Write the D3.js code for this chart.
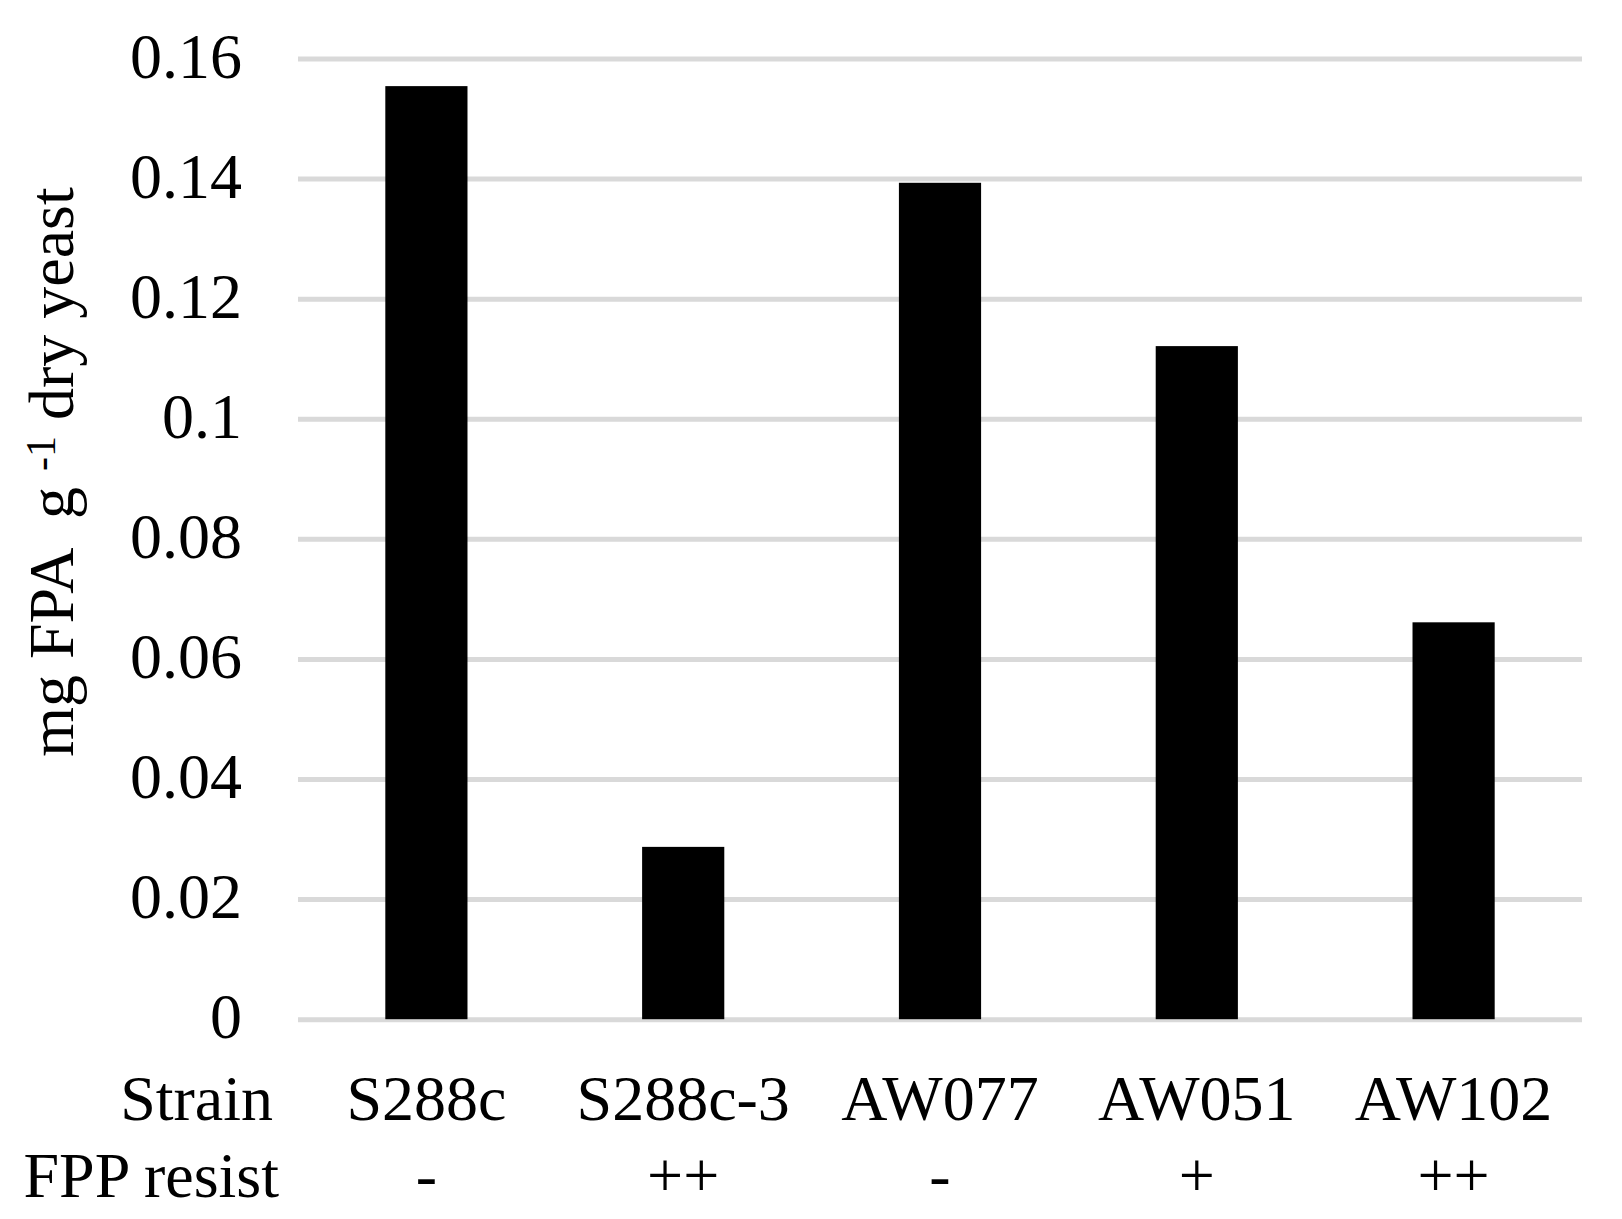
<!DOCTYPE html>
<html>
<head>
<meta charset="utf-8">
<script src="https://cdn.jsdelivr.net/npm/d3@7"></script>
<style>
  body { margin: 0; background: #fff; }
  svg { display: block; }
  .tick text { font-family: "Liberation Serif", "Times New Roman", serif; fill: #000; }
</style>
</head>
<body>
<div class="bar-chart"></div>
<script>
// data
var strains = ["S288c", "S288c-3", "AW077", "AW051", "AW102"];
var resist = ["-", "++", "-", "+", "++"];
var fpa = [0.1554, 0.0287, 0.1393, 0.1121, 0.0661];
var yTicks = [0, 0.02, 0.04, 0.06, 0.08, 0.1, 0.12, 0.14, 0.16];

var margin = {top: 58.5, right: 40, bottom: 200, left: 298},
  width = 1622 - margin.left - margin.right,
  height = 1019.2 - margin.top;

var font = '"Liberation Serif", "Times New Roman", serif';

var svg = d3.select(".bar-chart")
    .append("svg")
    .attr("width", 1622)
    .attr("height", 1219)
  .append("g")
    .attr("transform", "translate(" + margin.left + "," + margin.top + ")");

var x = d3.scaleBand()
    .domain(d3.range(strains.length))
    .range([0, width])
    .paddingInner(0.68)
    .paddingOuter(0.34);

var y = d3.scaleLinear()
    .domain([0, 0.16])
    .range([height, 0]);

// gridlines
var grid = svg.append("g")
    .call(d3.axisLeft(y).tickValues(yTicks).tickSize(-width).tickFormat(""));
grid.select(".domain").remove();
grid.selectAll("line")
    .attr("stroke", "#d9d9d9")
    .attr("stroke-width", 5);

// y tick labels
var yAxis = svg.append("g")
    .call(d3.axisLeft(y).tickValues(yTicks).tickSize(0).tickPadding(56)
      .tickFormat(function(d) { return d === 0 ? "0" : String(+d.toFixed(2)); }));
yAxis.select(".domain").remove();
yAxis.selectAll("text")
    .attr("font-size", 64)
    .attr("dy", "0.29em");

// bars
svg.selectAll(".bar")
    .data(fpa)
  .enter().append("rect")
    .attr("class", "bar")
    .attr("x", function(d, i) { return x(i); })
    .attr("width", x.bandwidth())
    .attr("y", function(d) { return y(d); })
    .attr("height", function(d) { return height - y(d); })
    .attr("fill", "#000");

// strain row
var strainAxis = svg.append("g")
    .attr("transform", "translate(0," + height + ")")
    .call(d3.axisBottom(x).tickSize(0).tickPadding(0)
      .tickFormat(function(i) { return strains[i]; }));
strainAxis.select(".domain").remove();
strainAxis.selectAll("text")
    .attr("font-size", 64)
    .attr("y", 100.8)
    .attr("dy", 0);

// FPP resist row
var resistAxis = svg.append("g")
    .attr("transform", "translate(0," + height + ")")
    .call(d3.axisBottom(x).tickSize(0).tickPadding(0)
      .tickFormat(function(i) { return resist[i]; }));
resistAxis.select(".domain").remove();
resistAxis.selectAll("text")
    .attr("font-size", 64)
    .attr("y", 177.8)
    .attr("dy", 0);

// row headers
var root = d3.select(".bar-chart svg");
root.append("text")
    .attr("x", 273)
    .attr("y", 1120)
    .attr("text-anchor", "end")
    .attr("font-family", font)
    .attr("font-size", 64)
    .text("Strain");
root.append("text")
    .attr("x", 279)
    .attr("y", 1197)
    .attr("text-anchor", "end")
    .attr("font-family", font)
    .attr("font-size", 64)
    .text("FPP resist");

// y axis title
var title = root.append("text")
    .attr("transform", "translate(73,472) rotate(-90)")
    .attr("text-anchor", "middle")
    .attr("font-family", font)
    .attr("font-size", 64)
    .style("white-space", "pre");
title.append("tspan").text("mg FPA  g ");
title.append("tspan").attr("font-size", 42).attr("dy", -18).text("-1");
title.append("tspan").attr("dy", 18).text(" dry yeast");
</script>
</body>
</html>
